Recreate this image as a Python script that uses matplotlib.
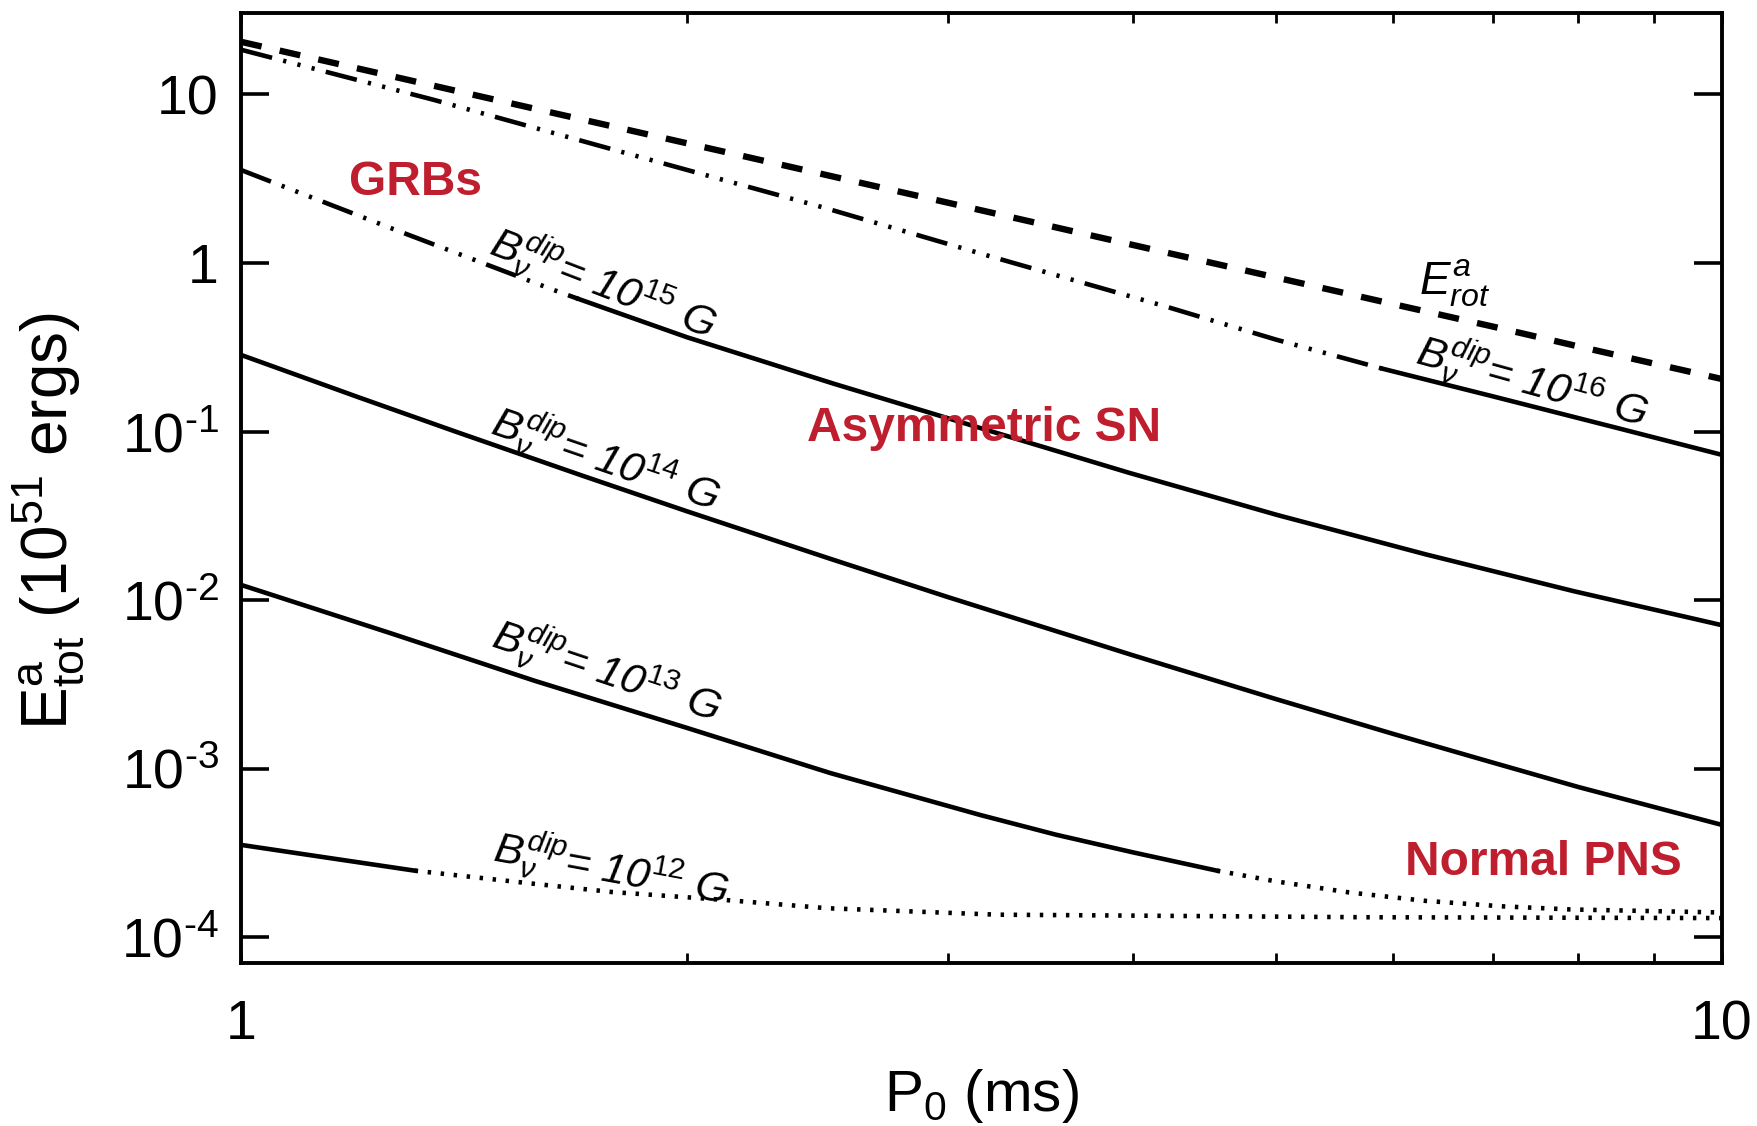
import numpy as np
import matplotlib
matplotlib.use('Agg')
import matplotlib.pyplot as plt
from matplotlib.ticker import NullFormatter, NullLocator, LogLocator

plt.rcParams['font.family'] = ['Liberation Sans', 'DejaVu Sans']
plt.rcParams['mathtext.fontset'] = 'custom'
plt.rcParams['mathtext.rm'] = 'Liberation Sans'
plt.rcParams['mathtext.it'] = 'Liberation Sans:italic'
plt.rcParams['mathtext.bf'] = 'Liberation Sans:bold'

# rotational energy limit
p_rot = [1, 1.5, 2, 3, 4, 5, 6, 7, 8, 10]
e_rot = [20.5, 9.1, 5.13, 2.28, 1.28, 0.82, 0.57, 0.42, 0.32, 0.205]

# B = 1e16 G (dash-dot-dot-dot up to split, then solid)
p_b16 = [1, 1.35, 1.82, 2.47, 3.2, 4.2, 5.0, 5.9, 7.0, 8.5, 10]
e_b16 = [18.4, 9.27, 4.48, 2.14, 1.10, 0.556, 0.351, 0.236, 0.162, 0.105, 0.0728]
p_b16_split = 5.9

# B = 1e15 G
p_b15 = [1, 1.26, 1.62, 1.69, 2.0, 2.51, 3.16, 3.98, 5.01, 6.31, 7.94, 10]
e_b15 = [3.56, 1.62, 0.70, 0.612, 0.363, 0.193, 0.1047, 0.0569, 0.032, 0.0187,
         0.01132, 0.00711]
p_b15_split = 1.69

# B = 1e14 G (all solid)
p_b14 = [1, 1.2, 1.4, 1.7, 2, 2.5, 3, 4, 5, 6, 7, 8, 10]
e_b14 = [0.285, 0.160, 0.0991, 0.0548, 0.0337, 0.0176, 0.01045, 0.00472,
         0.00259, 0.00161, 0.00109, 7.8e-4, 4.65e-4]

# B = 1e13 G (solid up to split, then dotted)
p_b13 = [1, 1.26, 1.58, 2.0, 2.5, 3.16, 3.55, 4.0, 4.56, 5.0, 5.6, 6.3, 7.1,
         7.9, 10]
e_b13 = [0.01233, 0.0064, 0.00332, 0.00175, 9.44e-4, 5.31e-4, 4.07e-4, 3.2e-4,
         2.49e-4, 2.15e-4, 1.85e-4, 1.65e-4, 1.53e-4, 1.466e-4, 1.406e-4]
p_b13_split = 4.56

# B = 1e12 G (solid up to split, then dotted)
p_b12 = [1, 1.15, 1.31, 1.57, 1.78, 2.12, 2.49, 3.24, 5.75, 10]
e_b12 = [3.54e-4, 2.95e-4, 2.49e-4, 2.09e-4, 1.86e-4, 1.67e-4, 1.49e-4,
         1.365e-4, 1.318e-4, 1.303e-4]
p_b12_split = 1.31

b_exps = ['16', '15', '14', '13', '12']
region_labels = ['GRBs', 'Asymmetric SN', 'Normal PNS']

yticks = [1e-4, 1e-3, 1e-2, 1e-1, 1, 10]
yticklabels = [r'$\mathregular{10^{\text{-}4}}$', r'$\mathregular{10^{\text{-}3}}$',
               r'$\mathregular{10^{\text{-}2}}$', r'$\mathregular{10^{\text{-}1}}$',
               '1', '10']
xticks = [1, 10]
xticklabels = ['1', '10']

red = '#BE1E2D'
lw = 3.3
dash3dot = (0, (7, 2.5, 0.7, 2.5, 0.7, 2.5, 0.7, 2.5))
dotted = (0, (0.75, 2.1))
dashed = (0, (3.3, 2.9))

fig = plt.figure(figsize=(17.58, 11.26), dpi=100)
ax = fig.add_axes([0.1371, 0.1448, 0.8424, 0.8437])
ax.set_xscale('log')
ax.set_yscale('log')


def split_plot(p, e, split, style_a, style_b):
    p = np.array(p)
    e = np.array(e)
    m1 = p <= split
    m2 = p >= split
    ax.plot(p[m1], e[m1], color='k', lw=lw, linestyle=style_a, dash_capstyle='butt')
    ax.plot(p[m2], e[m2], color='k', lw=lw, linestyle=style_b, dash_capstyle='butt')


ax.plot(p_rot, e_rot, color='k', lw=4.6, linestyle=dashed, dash_capstyle='butt')
split_plot(p_b16, e_b16, p_b16_split, dash3dot, '-')
split_plot(p_b15, e_b15, p_b15_split, dash3dot, '-')
ax.plot(p_b14, e_b14, color='k', lw=lw)
split_plot(p_b13, e_b13, p_b13_split, '-', dotted)
split_plot(p_b12, e_b12, p_b12_split, '-', dotted)

ax.set_xlim(1, 10)
ax.set_ylim(7.06e-5, 30.4)

ax.set_yticks(yticks)
ax.set_yticklabels(yticklabels)
ax.yaxis.set_minor_locator(NullLocator())
ax.set_xticks(xticks)
ax.set_xticklabels(xticklabels)
ax.xaxis.set_minor_locator(LogLocator(base=10, subs=np.arange(2, 10)))
ax.xaxis.set_minor_formatter(NullFormatter())

ax.tick_params(axis='y', which='major', direction='in', length=20, width=2.6,
               left=True, right=True, labelsize=40, pad=16)
ax.tick_params(axis='x', which='both', direction='in', length=7, width=2,
               bottom=True, top=True, labelsize=40, pad=26)
for s in ax.spines.values():
    s.set_linewidth(2.8)

ax.set_xlabel(r'P$_{\mathregular{0}}$ (ms)', fontsize=42)
ax.xaxis.set_label_coords(0.5, -0.1095)
ax.set_ylabel(r'E$^{\mathregular{a}}_{\mathregular{tot}}$ (10$^{\mathregular{51}}$ ergs)',
              fontsize=46)
ax.yaxis.set_label_coords(-0.105, 0.465)

# curve labels
lab_pos = [(7.44, 0.1945, -15.5), (1.755, 0.751, -21), (1.761, 0.0679, -19),
           (1.764, 0.00376, -18.5), (1.777, 2.51e-4, -10.5)]
for ex, (px, py, rot) in zip(b_exps, lab_pos):
    ax.text(px, py, r'$\mathit{B}_{\nu}^{\mathit{dip}}$= 10$^{\mathit{' + ex + '}}$ G',
            fontsize=31, style='italic', rotation=rot, rotation_mode='anchor',
            ha='center', va='center')
ax.text(6.60, 0.762, r'$\mathit{E}_{\mathit{rot}}^{\mathit{a}}$', fontsize=33,
        ha='center', va='center')

red_pos = [(1.311, 2.99), (3.176, 0.1038), (7.58, 2.8e-4)]
for t, (px, py) in zip(region_labels, red_pos):
    ax.text(px, py, t, color=red, fontsize=34.5, fontweight='bold',
            ha='center', va='center', zorder=5)

fig.savefig('out.png', dpi=100)
